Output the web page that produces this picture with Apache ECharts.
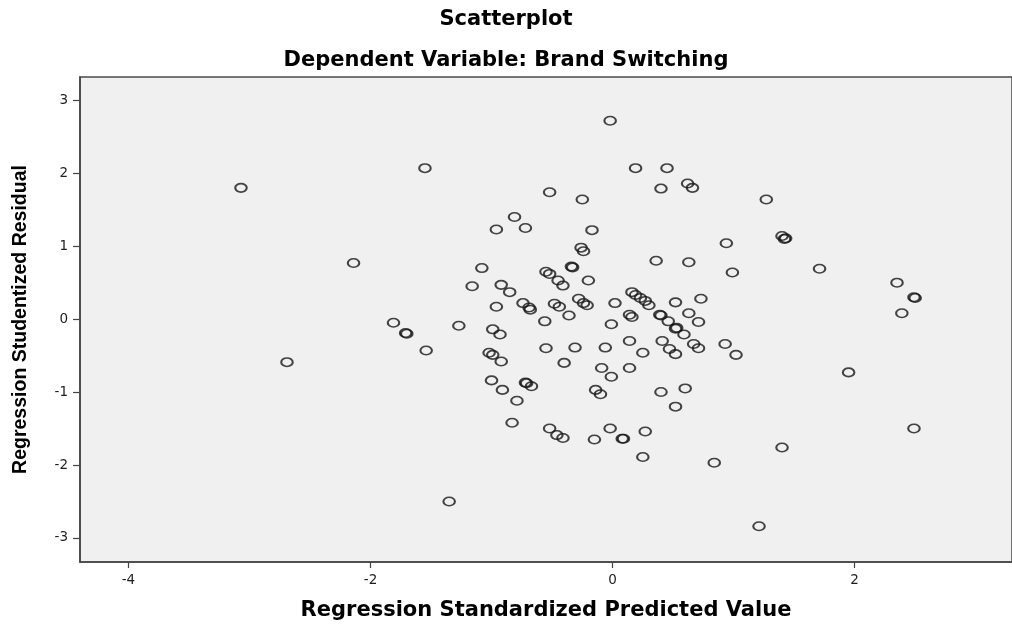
<!DOCTYPE html>
<html>
<head>
<meta charset="utf-8">
<title>Scatterplot</title>
<script src="https://cdn.jsdelivr.net/npm/echarts@6/dist/echarts.min.js"></script>
<style>
  html, body { margin: 0; padding: 0; background: #ffffff; }
  #chart { width: 1012px; height: 626px; }
</style>
</head>
<body>
<div id="chart"></div>
<script>
// values
var predicted = [
  -3.07, -2.69, -0.02, -1.55, 0.19, 0.45, 0.40, -0.52, -0.25, -0.81,
  -0.96, -0.72, -0.17, -0.26, -0.24, -2.14, 0.36, -1.08, -0.34, -0.33,
  -0.55, -0.52, -0.45, -0.41, -0.20, -1.16, -0.92, -0.85, -0.96, -0.74,
  -0.69, -0.68, -0.56, -0.48, -0.44, -0.36, -0.28, -0.24, -0.21, 0.02,
  -0.01, 0.14, 0.16, 0.16, 0.19, 0.23, 0.27, 0.30, 0.39, 0.40,
  -1.81, -1.27, -0.99, -0.93, 0.62, 0.66, 1.27, 0.94, 1.40, 1.42,
  1.43, 0.63, 0.99, 1.71, 2.35, 2.49, 2.50, 2.39, 0.52, 0.73,
  0.63, 0.71, 0.46, 0.52, 0.53, 0.59, 0.41, 0.47, 0.52, 0.67,
  0.71, 0.93, 1.02, 1.95, 0.40, 0.60, 0.52, 2.49, 1.40, 0.84,
  1.21, -1.71, -1.70, -1.54, -1.02, -0.99, -0.92, -0.55, -0.31, -0.40,
  0.14, 0.25, -0.06, -0.09, -0.01, 0.14, -1.00, -0.91, -0.72, -0.71,
  -0.67, -0.79, -0.14, -0.10, -0.83, -0.52, -0.46, -0.41, -0.15, -0.02,
  0.08, 0.09, 0.27, 0.25, -1.35
];
var residual = [
  1.80, -0.59, 2.72, 2.07, 2.07, 2.07, 1.79, 1.74, 1.64, 1.40,
  1.23, 1.25, 1.22, 0.98, 0.93, 0.77, 0.80, 0.70, 0.72, 0.71,
  0.65, 0.62, 0.53, 0.46, 0.53, 0.45, 0.47, 0.37, 0.17, 0.22,
  0.16, 0.13, -0.03, 0.21, 0.17, 0.05, 0.28, 0.22, 0.19, 0.22,
  -0.07, 0.06, 0.03, 0.37, 0.33, 0.29, 0.25, 0.19, 0.06, 0.05,
  -0.05, -0.09, -0.14, -0.21, 1.86, 1.80, 1.64, 1.04, 1.14, 1.10,
  1.11, 0.78, 0.64, 0.69, 0.50, 0.30, 0.29, 0.08, 0.23, 0.28,
  0.08, -0.04, -0.03, -0.13, -0.12, -0.21, -0.30, -0.41, -0.48, -0.34,
  -0.40, -0.34, -0.49, -0.73, -1.00, -0.95, -1.20, -1.50, -1.76, -1.97,
  -2.84, -0.19, -0.20, -0.43, -0.46, -0.49, -0.58, -0.40, -0.39, -0.60,
  -0.30, -0.46, -0.39, -0.67, -0.79, -0.67, -0.84, -0.97, -0.87, -0.88,
  -0.92, -1.12, -0.97, -1.03, -1.42, -1.50, -1.59, -1.63, -1.65, -1.50,
  -1.64, -1.64, -1.54, -1.89, -2.50
];
var xTicks = [-4, -2, 0, 2];
var yTicks = [-3, -2, -1, 0, 1, 2, 3];

var points = [];
for (var i = 0; i < predicted.length; i++) {
  points.push([predicted[i], residual[i]]);
}

var chartDom = document.getElementById('chart');
var myChart = echarts.init(chartDom, null, { renderer: 'canvas' });
var option;

var boldFont = 'DejaVu Sans';
var labelStyle = { fontFamily: 'DejaVu Sans', fontSize: 13.5, color: '#1e1e1e' };
var axisColor = '#444444';

option = {
  backgroundColor: '#ffffff',
  animation: false,
  title: [
    {
      text: 'Scatterplot',
      left: 'center',
      top: 9,
      padding: 0,
      textStyle: { fontFamily: boldFont, fontWeight: 'bold', fontSize: 21, color: '#000000' }
    },
    {
      text: 'Dependent Variable: Brand Switching',
      left: 'center',
      top: 50,
      padding: 0,
      textStyle: { fontFamily: boldFont, fontWeight: 'bold', fontSize: 21, color: '#000000' }
    }
  ],
  grid: {
    left: 80, top: 77, width: 934, height: 490,
    show: true,
    backgroundColor: '#f0f0f0',
    borderColor: '#4a4a4a',
    borderWidth: 1.5
  },
  xAxis: {
    type: 'value',
    min: -4.4,
    max: 3.3,
    name: 'Regression Standardized Predicted Value',
    nameLocation: 'middle',
    nameGap: 38,
    nameTextStyle: { fontFamily: boldFont, fontWeight: 'bold', fontSize: 21, color: '#000000' },
    axisLine: { show: true, onZero: false, lineStyle: { color: axisColor, width: 1.5 } },
    axisTick: { show: true, customValues: xTicks, length: 6, lineStyle: { color: axisColor, width: 1.2 } },
    axisLabel: Object.assign({ customValues: xTicks, margin: 11 }, labelStyle),
    splitLine: { show: false }
  },
  yAxis: {
    type: 'value',
    min: -3.33,
    max: 3.32,
    name: 'Regression Studentized Residual',
    nameLocation: 'middle',
    nameGap: 49,
    nameTextStyle: { fontFamily: 'Liberation Sans', fontWeight: 'bold', fontSize: 19.5, color: '#000000' },
    axisLine: { show: true, onZero: false, lineStyle: { color: axisColor, width: 1.5 } },
    axisTick: { show: true, customValues: yTicks, length: 7, lineStyle: { color: axisColor, width: 1.2 } },
    axisLabel: Object.assign({ customValues: yTicks, margin: 12 }, labelStyle),
    splitLine: { show: false }
  },
  series: [
    {
      type: 'scatter',
      data: points,
      symbol: 'path://M0,50 A50,50 0 1 1 100,50 A50,50 0 1 1 0,50 Z',
      symbolSize: [11.5, 8.5],
      itemStyle: {
        color: 'rgba(0,0,0,0)',
        borderColor: '#161616',
        borderWidth: 1.8
      },
      emphasis: { disabled: true }
    }
  ]
};

option && myChart.setOption(option);
</script>
</body>
</html>
